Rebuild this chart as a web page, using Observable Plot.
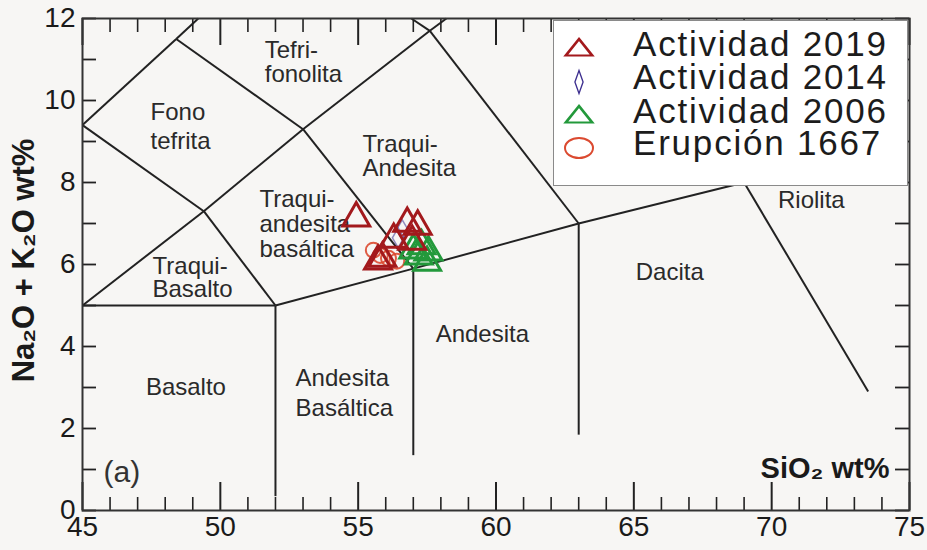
<!DOCTYPE html>
<html>
<head>
<meta charset="utf-8">
<script src="https://cdn.jsdelivr.net/npm/d3@7"></script>
<script src="https://cdn.jsdelivr.net/npm/@observablehq/plot@0.6"></script>
<style>
  body { margin: 0; background: #f7f6f4; }
  #wrap { position: relative; width: 927px; height: 550px; font-family: "Liberation Sans", Arial, sans-serif; }
  #legend { position: absolute; left: 553px; top: 20px; width: 355px; height: 166px; background: #ffffff;
            border: 1.5px solid #8a8a8a; box-sizing: border-box; }
  #legend .lab { position: absolute; left: 79px; height: 30px; line-height: 30px; font-size: 35px;
                 letter-spacing: 1.8px; color: #1c1c1c; white-space: nowrap; }
  #legend svg { position: absolute; left: 0; }
</style>
</head>
<body>
<div id="wrap"></div>
<script>
// ---------- data ----------
const series = ["Actividad 2019", "Actividad 2014", "Actividad 2006", "Erupción 1667"];
const seriesColor = ["#a3191c", "#3d2f8f", "#23993b", "#db4a30"];
const seriesSymbol = ["triangle", "diamond", "triangle", "circle"];

const sio2_2019 = [54.93, 56.78, 57.16, 56.29, 56.96, 55.88, 55.72];
const alk_2019  = [7.13, 7.0, 6.93, 6.61, 6.56, 6.15, 6.08];
const sio2_2014 = [56.6, 56.45];
const alk_2014  = [6.85, 6.65];
const sio2_2006 = [57.0, 57.3, 57.55, 57.5, 57.2];
const alk_2006  = [6.35, 6.45, 6.3, 6.05, 6.2];
const sio2_1667 = [55.55, 55.8, 56.1, 56.4];
const alk_1667  = [6.35, 6.22, 6.15, 6.08];

// TAS field boundaries (SiO2, Na2O+K2O)
const tasX1 = [45, 52, 57, 63, 69, 52, 57, 63, 45, 49.4, 53, 57.6, 49.4, 53, 57.6, 45, 48.4, 45, 48.4, 56.93];
const tasY1 = [5, 5, 5.9, 7, 8, 5, 5.9, 7, 5, 7.3, 9.3, 11.7, 7.3, 9.3, 11.7, 9.4, 11.5, 9.4, 11.5, 12];
const tasX2 = [52, 57, 63, 69, 73.5, 52, 57, 63, 49.4, 53, 57.6, 58.2, 52, 57, 63, 49.4, 53, 48.4, 49.2, 57.6];
const tasY2 = [5, 5.9, 7, 8, 2.9, 0.35, 1.35, 1.85, 7.3, 9.3, 11.7, 12, 5, 5.9, 7, 7.3, 9.3, 11.5, 12, 11.7];

// field names and their anchor points (data units)
const fieldName = ["Tefri-\nfonolita", "Fono\ntefrita", "Traqui-\nAndesita", "Traqui-\nandesita\nbasáltica",
                   "Traqui-\nBasalto", "Basalto", "Andesita\nBasáltica", "Andesita", "Dacita", "Riolita"];
const fieldX = [51.61, 47.47, 55.16, 51.42, 47.54, 47.3, 52.73, 57.81, 65.07, 70.23];
const fieldY = [10.93, 9.39, 8.65, 6.98, 5.66, 3.0, 2.9, 4.29, 5.8, 7.56];

const xMajor = [45, 50, 55, 60, 65, 70, 75];
const xMinor = [46,47,48,49,51,52,53,54,56,57,58,59,61,62,63,64,66,67,68,69,71,72,73,74];
const yMajor = [0, 2, 4, 6, 8, 10, 12];
const yMinor = [1, 3, 5, 7, 9, 11];

const xTitle = "SiO₂ wt%";
const yTitle = "Na₂O + K₂O wt%";
const panelTag = "(a)";

// ---------- layout / style ----------
const W = 927, H = 550, mL = 82, mR = 18, mT = 18, mB = 40;
const innerW = W - mL - mR, innerH = H - mT - mB;
const fieldLineHeight = [1.0, 1.17, 1.0, 1.04, 0.93, 1, 1.25, 1, 1, 1];
const ink = "#222";

const dotSets = [
  {x: sio2_1667, y: alk_1667, s: 3, r: 7.5, sw: 2, op: 0.9},
  {x: sio2_2014, y: alk_2014, s: 1, r: 6, sw: 1.5, op: 0.55},
  {x: sio2_2006, y: alk_2006, s: 2, r: 10, sw: 3, op: 1},
  {x: sio2_2019, y: alk_2019, s: 0, r: 10, sw: 3, op: 1}
];

const fieldMarks = fieldName.map((t, i) =>
  Plot.text([i], {x: () => fieldX[i], y: () => fieldY[i], text: () => fieldName[i],
    textAnchor: "start", fontSize: 24, lineHeight: fieldLineHeight[i], fill: "#2a2a2a"}));

const chart = Plot.plot({
  width: W, height: H,
  marginLeft: mL, marginRight: mR, marginTop: mT, marginBottom: mB,
  style: {background: "#f7f6f4", fontFamily: "Liberation Sans, Arial, sans-serif", fontSize: "28px", color: "#1a1a1a"},
  x: {domain: [45, 75], ticks: xMajor, tickSize: 0, tickPadding: 6, label: null, tickFormat: d => String(d)},
  y: {domain: [0, 12], ticks: yMajor, tickSize: 0, tickPadding: 7, label: null, tickFormat: d => String(d)},
  marks: [
    Plot.link(d3.range(tasX1.length), {
      x1: i => tasX1[i], y1: i => tasY1[i], x2: i => tasX2[i], y2: i => tasY2[i],
      stroke: ink, strokeWidth: 2
    }),
    ...fieldMarks,
    // inward ticks on all four sides
    Plot.tickX(xMajor, {x: d => d, insetTop: innerH - 28, stroke: ink, strokeWidth: 2}),
    Plot.tickX(xMinor, {x: d => d, insetTop: innerH - 13, stroke: ink, strokeWidth: 1.6}),
    Plot.tickX(xMajor, {x: d => d, insetBottom: innerH - 27, stroke: ink, strokeWidth: 2}),
    Plot.tickX(xMinor, {x: d => d, insetBottom: innerH - 14, stroke: ink, strokeWidth: 1.6}),
    Plot.tickY(yMajor.concat(yMinor), {y: d => d, insetRight: innerW - 14, stroke: ink, strokeWidth: 1.8}),
    Plot.tickY(yMajor.concat(yMinor), {y: d => d, insetLeft: innerW - 14, stroke: ink, strokeWidth: 1.8}),
    Plot.frame({stroke: "#333", strokeWidth: 2}),
    ...dotSets.map(d => Plot.dot(d3.range(d.x.length), {
      x: i => d.x[i], y: i => d.y[i], symbol: seriesSymbol[d.s], r: d.r,
      stroke: seriesColor[d.s], strokeWidth: d.sw, strokeOpacity: d.op, fill: "none"
    })),
    Plot.text([panelTag], {text: d => d, frameAnchor: "bottom-left", textAnchor: "start", dx: 21, dy: -29,
      fontSize: 30, fill: "#333"}),
    Plot.text([xTitle], {text: d => d, frameAnchor: "bottom-right", textAnchor: "end", dx: -20, dy: -33,
      fontSize: 29, fontWeight: "bold", fill: "#1a1a1a"}),
    Plot.text([yTitle], {text: d => d, frameAnchor: "left", textAnchor: "middle", rotate: -90, dx: -58, dy: -4,
      fontSize: 31, fontWeight: "bold", fill: "#1a1a1a"})
  ]
});

const wrap = document.getElementById("wrap");
wrap.appendChild(chart);

// ---------- legend (inside plot, top right) ----------
const legend = document.createElement("div");
legend.id = "legend";
wrap.appendChild(legend);
const rowText = [23, 56, 90, 122];
const ns = "http://www.w3.org/2000/svg";
series.forEach((name, i) => {
  const svg = document.createElementNS(ns, "svg");
  svg.setAttribute("width", 50); svg.setAttribute("height", 36);
  svg.style.top = (rowText[i] + 5 - 18) + "px";
  let el;
  if (seriesSymbol[i] === "circle") {
    el = document.createElementNS(ns, "ellipse");
    el.setAttribute("cx", 25); el.setAttribute("cy", 18); el.setAttribute("rx", 14); el.setAttribute("ry", 10);
    el.setAttribute("stroke-width", 2);
  } else {
    el = document.createElementNS(ns, "path");
    if (seriesSymbol[i] === "triangle") {
      el.setAttribute("d", d3.symbol(d3.symbolTriangle, 300)());
      el.setAttribute("transform", "translate(25,19) scale(1,0.72)");
      el.setAttribute("stroke-width", 3);
    } else {
      el.setAttribute("d", d3.symbol(d3.symbolDiamond, 150)());
      el.setAttribute("transform", "translate(25,18) scale(0.62,1)");
      el.setAttribute("stroke-width", 2);
    }
  }
  el.setAttribute("fill", "none");
  el.setAttribute("stroke", seriesColor[i]);
  svg.appendChild(el);
  legend.appendChild(svg);
  const lab = document.createElement("div");
  lab.className = "lab";
  lab.style.top = (rowText[i] - 15) + "px";
  lab.textContent = name;
  legend.appendChild(lab);
});
</script>
</body>
</html>
